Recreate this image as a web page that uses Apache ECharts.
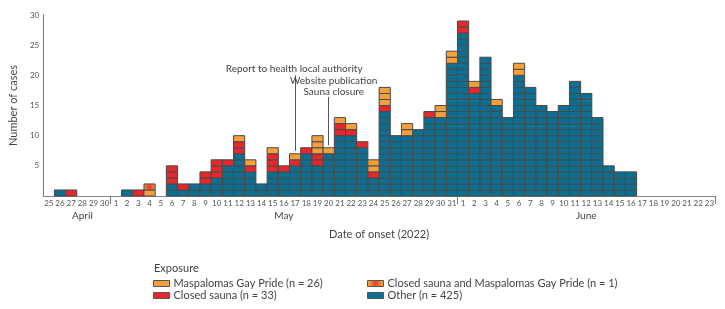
<!DOCTYPE html>
<html><head><meta charset="utf-8">
<script src="https://cdn.jsdelivr.net/npm/echarts@6/dist/echarts.min.js"></script>
<style>html,body{margin:0;padding:0;background:#fff}#c{width:725px;height:309px}</style>
</head><body><div id="c"></div>
<script>
// Categories: dates of onset 2022-04-25 .. 2022-06-23
const dates = [
 '04-25','04-26','04-27','04-28','04-29','04-30',
 '05-01','05-02','05-03','05-04','05-05','05-06','05-07','05-08','05-09','05-10','05-11','05-12','05-13','05-14','05-15','05-16','05-17','05-18','05-19','05-20','05-21','05-22','05-23','05-24','05-25','05-26','05-27','05-28','05-29','05-30','05-31',
 '06-01','06-02','06-03','06-04','06-05','06-06','06-07','06-08','06-09','06-10','06-11','06-12','06-13','06-14','06-15','06-16','06-17','06-18','06-19','06-20','06-21','06-22','06-23'
];
const monthNames = ['April','May','June'];
const monthLabelAt = ['04-28','05-16','06-12'];
const monthStarts = ['05-01','06-01'];

// Cases per day by exposure
const other = [
 0,1,0,0,0,0,
 0,1,0,0,0,2,1,2,2,3,5,7,4,2,4,4,5,7,5,7,10,10,8,3,14,10,10,11,13,13,22,
 27,17,23,15,13,20,18,15,14,15,19,17,13,5,4,4,0,0,0,0,0,0,0
];
const sauna = [
 0,0,1,0,0,0,
 0,0,1,0,0,3,1,0,2,3,1,2,1,0,3,1,1,1,2,0,2,1,1,1,1,0,0,0,1,0,0,
 2,1,0,0,0,0,0,0,0,0,0,0,0,0,0,0,0,0,0,0,0,0,0
];
const pride = [
 0,0,0,0,0,0,
 0,0,0,1,0,0,0,0,0,0,0,1,1,0,1,0,1,0,3,1,1,1,0,2,3,0,2,0,0,2,2,
 0,1,0,1,0,2,0,0,0,0,0,0,0,0,0,0,0,0,0,0,0,0,0
];
const both = [
 0,0,0,0,0,0,
 0,0,0,1,0,0,0,0,0,0,0,0,0,0,0,0,0,0,0,0,0,0,0,0,0,0,0,0,0,0,0,
 0,0,0,0,0,0,0,0,0,0,0,0,0,0,0,0,0,0,0,0,0,0,0
];
const seriesNames = ['Other (n = 425)','Closed sauna (n = 33)','Maspalomas Gay Pride (n = 26)','Closed sauna and Maspalomas Gay Pride (n = 1)'];
const events = ['Report to health local authority', 'Website publication\nSauna closure'];
const eventDates = ['05-17', '05-20'];

const ORANGE = '#f5a03c', RED = '#e8262b', TEAL = '#0b6f92';
const BOTH = {type:'radial', x:0.5, y:0.5, r:0.9, colorStops:[{offset:0,color:'#e8342b'},{offset:0.55,color:'#ef6a32'},{offset:1,color:ORANGE}]};
const colors = [TEAL, RED, ORANGE, BOTH];
const stacks = [other, sauna, pride, both];

function buildData(s){
  const out = [];
  for (let i = 0; i < dates.length; i++){
    let base = 0;
    for (let j = 0; j < s; j++) base += stacks[j][i];
    if (stacks[s][i] > 0) out.push([i, base, stacks[s][i]]);
  }
  return out;
}
function makeRender(fill){
  return function(params, api){
    const idx = api.value(0), base = api.value(1), n = api.value(2);
    const w = api.size([1,0])[0];
    const children = [];
    for (let k = 0; k < n; k++){
      const p0 = api.coord([idx, base + k]);
      const p1 = api.coord([idx, base + k + 1]);
      children.push({type:'rect', shape:{x:p0[0]-w/2, y:p1[1], width:w, height:p0[1]-p1[1]},
        style:{fill:fill, stroke:'#4a4a4a', lineWidth:1}});
    }
    return {type:'group', children};
  };
}
function totalAt(d){ const i = dates.indexOf(d); return stacks.reduce((a, s) => a + s[i], 0); }

const FONT = 'Lato';
const TXT = '#444';
const series = stacks.map((arr, s) => ({
  name: seriesNames[s], type:'custom', renderItem: makeRender(colors[s]),
  itemStyle:{color: colors[s]}, encode:{x:0, y:1}, data: buildData(s), z: 2
}));
series.push({
  type:'line', data:[], silent:true, z:3,
  markLine:{
    silent:true, symbol:['none','arrow'], symbolSize:[0,6],
    lineStyle:{color:'#555', width:1, type:'solid'},
    label:{show:true, position:'start', distance:2, color:TXT, fontFamily:FONT, fontSize:10, lineHeight:11},
    data:[
      [{coord:[dates.indexOf(eventDates[0]), 20.0], label:{formatter:events[0], offset:[-1,1]}},
       {coord:[dates.indexOf(eventDates[0]), totalAt(eventDates[0]) + 0.5]}],
      [{coord:[dates.indexOf(eventDates[1]), 16.4], label:{formatter:events[1], offset:[5,2]}},
       {coord:[dates.indexOf(eventDates[1]), totalAt(eventDates[1]) + 0.4]}]
    ]
  }
});

const chart = echarts.init(document.getElementById('c'));
chart.setOption({
  animation:false,
  textStyle:{fontFamily:FONT},
  grid:{left:39, right:10, top:15, bottom:113},
  title:{text:'Exposure', left:149, top:258, textStyle:{fontFamily:FONT, fontSize:11, fontWeight:'normal', color:TXT}},
  legend:[
    {left:148, top:273, orient:'vertical', icon:'rect', itemWidth:16, itemHeight:6, itemGap:1,
     data:[seriesNames[2], seriesNames[1]], selectedMode:false,
     itemStyle:{borderColor:'#555', borderWidth:1},
     textStyle:{fontFamily:FONT, fontSize:11, color:TXT, padding:[0,0,0,-1]}},
    {left:362, top:273, orient:'vertical', icon:'rect', itemWidth:16, itemHeight:6, itemGap:1,
     data:[seriesNames[3], seriesNames[0]], selectedMode:false,
     itemStyle:{borderColor:'#555', borderWidth:1},
     textStyle:{fontFamily:FONT, fontSize:11, color:TXT, padding:[0,0,0,-1]}}
  ],
  xAxis:[
    {type:'category', data:dates, boundaryGap:true,
     name:'Date of onset (2022)', nameLocation:'middle', nameGap:33,
     nameTextStyle:{fontFamily:FONT, fontSize:11, color:TXT},
     axisLine:{lineStyle:{color:'#888', width:1}},
     axisTick:{show:true, length:8, lineStyle:{color:'#777'},
       interval:(i, v) => monthStarts.indexOf(dates[i]) >= 0},
     axisLabel:{interval:0, margin:3, fontSize:8, color:'#555', fontFamily:FONT,
       formatter:(v) => String(parseInt(v.slice(3), 10))}},
    {type:'category', data:dates, position:'bottom', boundaryGap:true,
     axisLine:{show:false}, axisTick:{show:false}, splitLine:{show:false},
     axisLabel:{interval:0, margin:15, fontSize:10, color:TXT, fontFamily:FONT,
       formatter:(v) => { const k = monthLabelAt.indexOf(v); return k >= 0 ? monthNames[k] : ''; }}}
  ],
  yAxis:{type:'value', min:0, max:30, interval:5,
    name:'Number of cases', nameLocation:'middle', nameGap:11,
    nameTextStyle:{fontFamily:FONT, fontSize:11, color:TXT},
    axisLine:{show:true, lineStyle:{color:'#777', width:1}},
    axisTick:{show:false}, splitLine:{show:false},
    axisLabel:{margin:4, fontSize:8, color:'#555', fontFamily:FONT,
      formatter:(v) => v === 0 ? '' : String(v)}},
  series: series
});
</script>
</body></html>
